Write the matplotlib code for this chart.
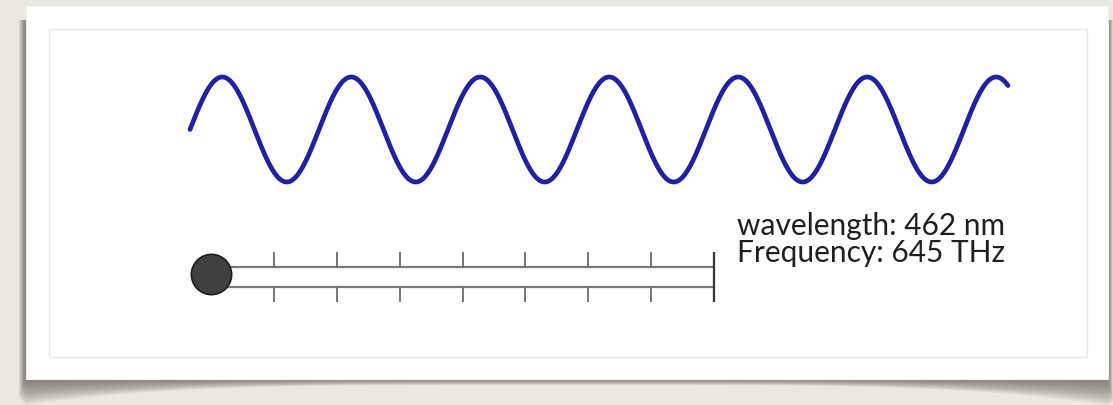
import numpy as np
import matplotlib
matplotlib.use("Agg")
import matplotlib.pyplot as plt
from matplotlib.patches import Rectangle, Polygon

# values shown in the picture
wavelength_nm = 462
frequency_thz = 645
wave_span_nm = [0, 2930]          # visible stretch of the wave
slider_ticks = [1, 2, 3, 4, 5, 6, 7]
slider_end = 8
slider_value = 0

W, H = 1113, 405
fig = plt.figure(figsize=(W / 100, H / 100), dpi=100)
fig.patch.set_facecolor("#ece8e0")

# background: card with curled shadow, drawn in pixel coords
bg = fig.add_axes([0, 0, 1, 1])
bg.set_xlim(0, W)
bg.set_ylim(H, 0)
bg.axis("off")

card_l, card_r, card_t, card_b = 26, 1108, 6, 379
xs = np.linspace(card_l, card_r, 120)
mid = (card_l + card_r) / 2
half = (card_r - card_l) / 2
depth = 6 + 20 * ((xs - mid) / half) ** 4
for f in np.linspace(1, 0.08, 14):
    bottom = card_b + depth * f
    pts = [(card_l - 7 * f, card_t + 14)] + [(card_r + 5 * f, card_t + 14)]
    pts += [(card_r + 5 * f, card_b + 22 * f)]
    pts += list(zip(xs[::-1], bottom[::-1]))
    pts += [(card_l - 7 * f, card_b + 18 * f)]
    bg.add_patch(Polygon(pts, closed=True, facecolor="#55524c", edgecolor="none", alpha=0.07))

bg.add_patch(Rectangle((card_l, card_t), card_r - card_l, card_b - card_t,
                       facecolor="white", edgecolor="#f2f2f2", lw=0.8))
bg.add_patch(Rectangle((49, 29), 1038, 328, facecolor="#fefefe", edgecolor="#e8e8e8", lw=1))

bg.text(1005, 235, f"wavelength: {wavelength_nm} nm", ha="right", va="baseline",
        fontsize=21.5, family=["Lato", "DejaVu Sans"], color="#1f1f1f")
bg.text(1005, 262, f"Frequency: {frequency_thz} THz", ha="right", va="baseline",
        fontsize=21.5, family=["Lato", "DejaVu Sans"], color="#1f1f1f")

# the wave
ax = fig.add_axes([190 / W, 1 - 182 / H, (1008 - 190) / W, (182 - 77) / H])
x = np.linspace(wave_span_nm[0], wave_span_nm[1], 2000)
ax.plot(x, np.sin(2 * np.pi * x / wavelength_nm), color="#2020a0", lw=3.4,
        solid_capstyle="round", clip_on=False)
ax.set_xlim(*wave_span_nm)
ax.set_ylim(-1, 1)
ax.axis("off")

# slider
sl = fig.add_axes([211 / W, 1 - 302 / H, (714 - 211) / W, 50 / H])
sl.set_xlim(0, slider_end)
sl.set_ylim(-2.5, 2.5)
sl.axis("off")
sl.hlines([1, -1], 0, slider_end, color="#7a7a7a", lw=1.6, clip_on=False)
sl.vlines(slider_ticks, 1, 2.5, color="#6a6a6a", lw=1.3, clip_on=False)
sl.vlines(slider_ticks, -2.5, -1, color="#6a6a6a", lw=1.3, clip_on=False)
sl.vlines([slider_end], -2.5, 2.5, color="#333333", lw=1.6, clip_on=False)
sl.plot([slider_value], [0.3], "o", ms=29, mfc="#404040", mec="#1e1e1e", mew=1.2,
        clip_on=False, zorder=5)

fig.savefig("out.png", dpi=100, facecolor=fig.get_facecolor())
